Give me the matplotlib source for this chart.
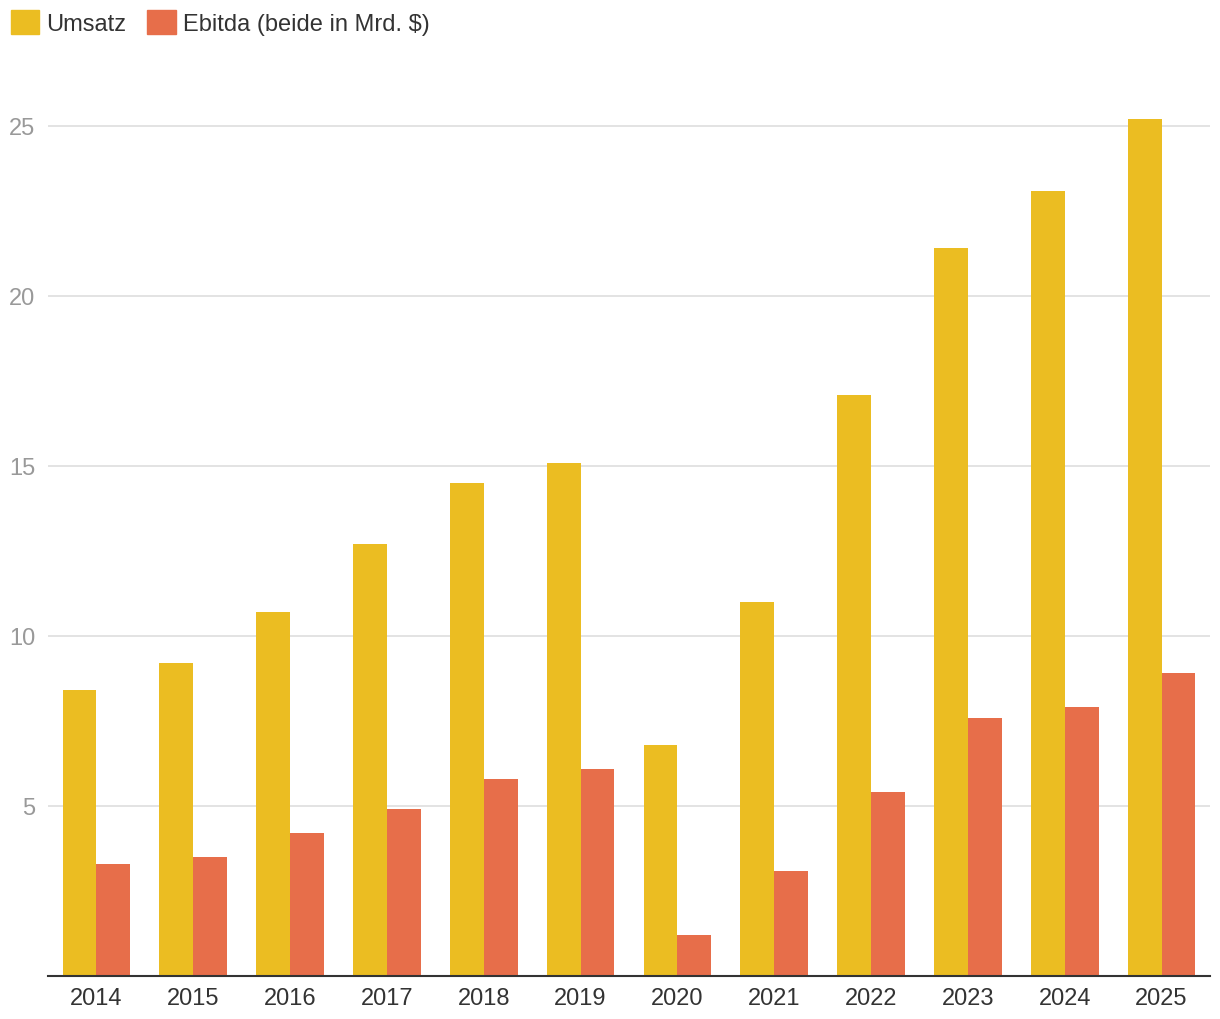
import numpy as np
import matplotlib.pyplot as plt
from matplotlib.patches import Patch

plt.rcParams['font.family'] = ['Liberation Sans', 'DejaVu Sans']

years = ['2014', '2015', '2016', '2017', '2018', '2019',
         '2020', '2021', '2022', '2023', '2024', '2025']
umsatz = [8.4, 9.2, 10.7, 12.7, 14.5, 15.1, 6.8, 11.0, 17.1, 21.4, 23.1, 25.2]
ebitda = [3.3, 3.5, 4.2, 4.9, 5.8, 6.1, 1.2, 3.1, 5.4, 7.6, 7.9, 8.9]
yticks = [5, 10, 15, 20, 25]

c_ums = '#EBBD22'
c_ebit = '#E76E4A'

fig = plt.figure(figsize=(12.2, 10.2), dpi=100)
ax = fig.add_axes([48 / 1220, 43 / 1020, (1210 - 48) / 1220, (977 - 93) / 1020])

x = np.arange(len(years))
w = 0.35
ax.bar(x - w / 2, umsatz, w, color=c_ums, zorder=3)
ax.bar(x + w / 2, ebitda, w, color=c_ebit, zorder=3)

ax.set_xlim(-0.5, len(years) - 0.5)
ax.set_ylim(0, 26)
ax.set_yticks(yticks)
ax.set_yticklabels([str(t) for t in yticks])
ax.set_xticks(x)
ax.set_xticklabels(years)
ax.yaxis.grid(True, color='#e3e3e3', linewidth=1.4, zorder=0)
ax.set_axisbelow(True)

for s in ['top', 'right', 'left']:
    ax.spines[s].set_visible(False)
ax.spines['bottom'].set_color('#333333')
ax.spines['bottom'].set_linewidth(1.5)
ax.spines['bottom'].set_zorder(4)

ax.tick_params(axis='y', length=0, pad=9, labelsize=17, labelcolor='#999999')
ax.tick_params(axis='x', length=0, pad=8, labelsize=17, labelcolor='#333333')

handles = [Patch(color=c_ums, label='Umsatz'),
           Patch(color=c_ebit, label='Ebitda (beide in Mrd. $)')]
fig.legend(handles=handles, loc='upper left', bbox_to_anchor=(0.0, 1.0),
           ncol=2, frameon=False, fontsize=17, labelcolor='#333333',
           handlelength=1.2, handleheight=1.2, handletextpad=0.3,
           columnspacing=0.9, borderaxespad=0.25, borderpad=0.2)

fig.savefig('out.png', dpi=100)
